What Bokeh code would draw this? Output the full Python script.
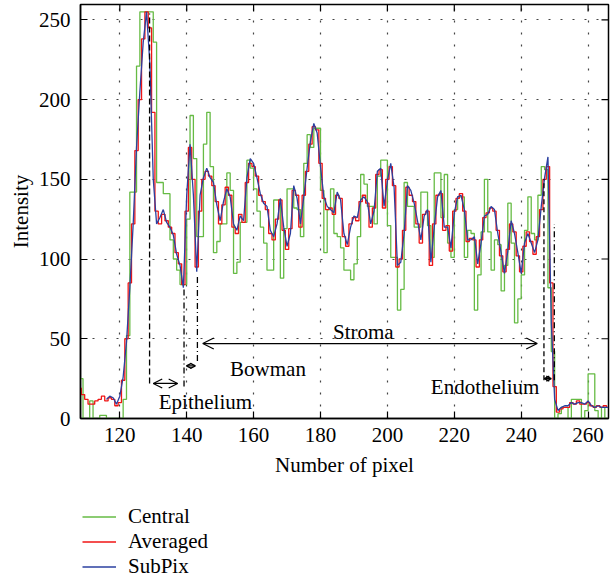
from bokeh.plotting import figure
from bokeh.layouts import column
from bokeh.models import (Range1d, FixedTicker, Legend, LegendItem,
                          Arrow, OpenHead, Label)
from bokeh.embed import file_html
from bokeh.resources import INLINE

FONT = "Liberation Serif"
FS = "21px"

# ---------------- data ----------------
pixels = list(range(108, 267))
central = [
    25, 0, 0, 11, 0, 0, 2, 2, 0, 0, 0, 0, 0, 12, 52, 142, 142, 221, 255, 255,   # 108-127
    255, 255, 236, 148, 148, 141, 141, 112, 100, 93, 84, 84, 125, 190, 163, 114, 114, 172, 192, 158,  # 128-147
    104, 111, 122, 122, 154, 143, 91, 98, 123, 123, 162, 157, 144, 130, 120, 110, 93, 93, 137, 137,  # 148-167
    88, 119, 144, 144, 132, 131, 114, 160, 178, 170, 182, 182, 143, 104, 131, 144, 116, 114, 107, 93,  # 168-187
    93, 87, 97, 114, 153, 147, 133, 133, 122, 152, 162, 162, 121, 101, 101, 68, 81, 148, 133, 133,  # 188-207
    120, 120, 142, 142, 121, 101, 154, 154, 126, 153, 110, 101, 131, 139, 139, 101, 118, 116, 68, 90,  # 208-227
    117, 150, 117, 93, 112, 109, 80, 96, 135, 110, 60, 75, 90, 118, 139, 116, 112, 140, 158, 156,  # 228-247
    82, 42, 0, 3, 7, 7, 0, 12, 12, 12, 0, 5, 28, 28, 5, 0, 7, 0, 0,  # 248-266
]
averaged = [
    19, 15, 12, 9, 9, 11, 12, 14, 11, 13, 12, 8, 10, 24, 50, 85, 122, 168, 200, 238,  # 108-127
    255, 245, 192, 130, 122, 128, 124, 120, 116, 104, 97, 84, 130, 170, 150, 95, 130, 150, 155, 152,  # 128-147
    146, 136, 122, 134, 145, 140, 120, 116, 128, 123, 148, 160, 158, 152, 140, 136, 131, 116, 112, 125,  # 148-167
    137, 118, 106, 119, 143, 140, 120, 140, 155, 172, 183, 181, 160, 138, 131, 132, 128, 140, 138, 114,  # 168-187
    108, 122, 126, 124, 136, 140, 135, 120, 132, 153, 156, 132, 150, 158, 146, 95, 100, 118, 145, 140,  # 188-207
    136, 122, 110, 128, 130, 96, 122, 140, 141, 118, 121, 105, 130, 138, 141, 130, 111, 113, 112, 95,  # 208-227
    112, 126, 129, 132, 130, 118, 102, 92, 106, 122, 117, 102, 92, 108, 117, 111, 103, 114, 131, 150,  # 228-247
    158, 85, 20, 4, 6, 7, 7, 10, 9, 11, 9, 9, 10, 8, 7, 8, 7, 8, 7,  # 248-266
]
subpix_pixels = list(range(116, 267))
subpix = [
    12, 14, 13, 9, 14, 26, 48, 82, 122, 170, 205, 236,  # 116-127
    255, 222, 150, 122, 126, 131, 123, 120, 115, 103, 96, 82, 140, 172, 140, 92, 140, 151, 157, 151,  # 128-147
    148, 134, 124, 136, 144, 139, 122, 118, 127, 124, 151, 163, 160, 151, 141, 135, 133, 118, 114, 122,  # 148-167
    138, 120, 108, 116, 146, 138, 122, 139, 157, 174, 185, 179, 158, 139, 133, 131, 129, 142, 137, 116,  # 168-187
    109, 120, 127, 126, 137, 139, 136, 122, 130, 155, 157, 133, 149, 160, 145, 96, 98, 116, 146, 143,  # 188-207
    135, 124, 112, 127, 131, 98, 120, 139, 143, 120, 120, 107, 129, 139, 140, 131, 112, 112, 114, 97,  # 208-227
    110, 127, 128, 133, 131, 116, 104, 91, 105, 124, 116, 104, 91, 110, 116, 110, 104, 112, 133, 151,  # 228-247
    164, 60, 12, 5, 7, 8, 8, 10, 9, 10, 10, 9, 11, 8, 7, 8, 7, 7, 7,  # 248-266
]
series_names = ["Central", "Averaged", "SubPix"]
x_ticks = [120, 140, 160, 180, 200, 220, 240, 260]
y_ticks = [0, 50, 100, 150, 200, 250]

GREEN = "#66BB44"
RED = "#F01515"
BLUE = "#2B40A0"

X0, X1 = 108.25, 266.1
Y0, Y1 = 0, 259.6
FRAME_W, FRAME_H = 528, 414

p = figure(width=612, height=490, x_range=Range1d(X0, X1), y_range=Range1d(Y0, Y1),
           output_backend="svg", toolbar_location=None,
           min_border_left=80, min_border_right=4, min_border_top=4, min_border_bottom=72)
p.background_fill_color = "white"
p.border_fill_color = "white"
p.outline_line_color = "black"
p.outline_line_width = 1.5

# axes
for ax in (p.xaxis[0], p.yaxis[0]):
    ax.major_label_text_font = FONT
    ax.major_label_text_font_size = FS
    ax.axis_label_text_font = FONT
    ax.axis_label_text_font_size = FS
    ax.axis_label_text_font_style = "normal"
    ax.major_tick_in = 7
    ax.major_tick_out = 0
    ax.minor_tick_in = 0
    ax.minor_tick_out = 0
    ax.axis_line_width = 1.5
    ax.major_tick_line_width = 1.2
    ax.major_label_text_color = "black"
    ax.axis_label_text_color = "black"
p.xaxis[0].ticker = FixedTicker(ticks=x_ticks)
p.yaxis[0].ticker = FixedTicker(ticks=y_ticks)
p.xaxis[0].axis_label = "Number of pixel"
p.yaxis[0].axis_label = "Intensity"
p.xaxis[0].major_label_standoff = 9
p.xaxis[0].axis_label_standoff = 8
p.yaxis[0].major_label_standoff = 10
p.yaxis[0].axis_label_standoff = 3

# inward ticks on the top and right edges (7 px long)
tx = 7 * (X1 - X0) / FRAME_W
ty = 7 * (Y1 - Y0) / FRAME_H
p.segment(x0=x_ticks, y0=[Y1] * len(x_ticks), x1=x_ticks, y1=[Y1 - ty] * len(x_ticks),
          line_color="black", line_width=1.2)
p.segment(x0=[X1] * len(y_ticks), y0=y_ticks, x1=[X1 - tx] * len(y_ticks), y1=y_ticks,
          line_color="black", line_width=1.2)

# grid
p.xgrid.ticker = FixedTicker(ticks=x_ticks)
p.ygrid.ticker = FixedTicker(ticks=y_ticks)
for g in (p.xgrid[0], p.ygrid[0]):
    g.grid_line_color = "#444444"
    g.grid_line_dash = "2 10"
    g.grid_line_width = 1.2

# series
p.step(pixels, central, mode="after", line_color=GREEN, line_width=1.3)
p.step(pixels, averaged, mode="center", line_color=RED, line_width=1.3)
p.line(subpix_pixels, subpix, line_color=BLUE, line_width=1.3)

# annotation guide lines
p.segment(x0=[128.9], y0=[22], x1=[128.9], y1=[254], line_color="black", line_width=1.3, line_dash="6 3")
p.segment(x0=[139.2, 143.2, 249.9], y0=[20, 36, 24], x1=[139.2, 143.2, 249.9], y1=[82, 90, 122],
          line_color="black", line_width=1.3, line_dash="6 3 1 3")
p.segment(x0=[246.8], y0=[24], x1=[246.8], y1=[150], line_color="black", line_width=1.3, line_dash="5 3")

def darrow(x0, x1, y, size):
    p.add_layout(Arrow(x_start=x0, x_end=x1, y_start=y, y_end=y, line_width=1.2, line_color="black",
                       start=OpenHead(size=size, line_width=1.2, line_color="black"),
                       end=OpenHead(size=size, line_width=1.2, line_color="black")))

darrow(130.0, 137.3, 22, 9)
darrow(139.9, 142.6, 33, 5)
darrow(144.8, 244.8, 47, 11)
darrow(246.9, 249.0, 25, 5)

for txt, x, y in [("Stroma", 192.8, 54), ("Bowman", 164.3, 31), ("Epithelium", 145.6, 10.2),
                  ("Endothelium", 229.2, 20)]:
    p.add_layout(Label(x=x, y=y, text=txt, text_font=FONT, text_font_size=FS, text_align="center",
                       text_baseline="middle", text_color="black"))

# ---------------- legend panel below the chart ----------------
lg = figure(width=612, height=90, output_backend="svg", toolbar_location=None,
            x_range=Range1d(0, 1), y_range=Range1d(0, 1),
            x_axis_type=None, y_axis_type=None,
            min_border_left=0, min_border_right=0, min_border_top=0, min_border_bottom=0)
lg.outline_line_color = None
lg.border_fill_color = "white"
lg.background_fill_color = "white"
nan = float("nan")
keys = [lg.line([nan], [nan], line_color=c, line_width=1.5) for c in (GREEN, RED, BLUE)]
legend = Legend(items=[LegendItem(label=n, renderers=[k]) for n, k in zip(series_names, keys)],
                location=(2, 1), orientation="vertical",
                label_text_font=FONT, label_text_font_size=FS, label_text_color="black",
                glyph_width=34, glyph_height=25, label_height=25, spacing=0,
                padding=0, margin=0, border_line_color=None, background_fill_alpha=0,
                label_standoff=12)
lg.add_layout(legend, "center")

layout = column(p, lg, spacing=0)
open("out.html", "w").write(file_html(layout, INLINE))
